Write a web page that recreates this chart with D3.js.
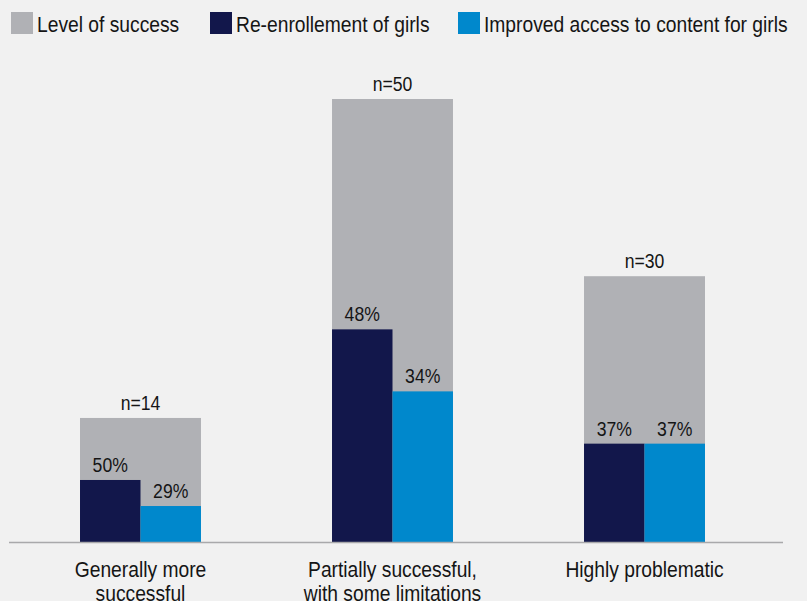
<!DOCTYPE html>
<html>
<head>
<meta charset="utf-8">
<script src="https://cdn.jsdelivr.net/npm/d3@7"></script>
<style>
  html, body { margin: 0; padding: 0; background: #f1f1f1; }
  svg { display: block; }
  text { font-family: "Liberation Sans", Arial, sans-serif; fill: #151515; }
</style>
</head>
<body>
<svg id="chart" width="807" height="601"></svg>
<script>
// Survey groups and their sample sizes
const categories = [
  ["Generally more", "successful"],
  ["Partially successful,", "with some limitations"],
  ["Highly problematic"]
];
const sampleSizes = [14, 50, 30];
// Share of each group reporting the outcome (percent)
const reEnrollment = [50, 48, 37];
const improvedAccess = [29, 34, 37];
const seriesNames = ["Level of success", "Re-enrollement of girls", "Improved access to content for girls"];
const colors = ["#b0b1b5", "#12174b", "#0088cc"];

const svg = d3.select("#chart");
const baseY = 542;
// Horizontal squeeze that gives the labels a condensed face
const SQ = 0.875;

const keys = categories.map((c, i) => i);
const x = d3.scaleBand().domain(keys).range([0, 785]).paddingInner(0.52).paddingOuter(0.3175);
const y = d3.scaleLinear().domain([0, 50]).range([baseY, 99]);
const bw = x.bandwidth();

function placeText(sel, fx, fy, sq) {
  return sel.attr("transform", (d, i) => `translate(${fx(d, i)},${fy(d, i)}) scale(${sq},1)`);
}

// Grey bars: group size
const groups = svg.append("g").selectAll("g").data(keys).join("g")
  .attr("transform", i => `translate(${x(i)},0)`);

groups.append("rect")
  .attr("x", 0).attr("width", bw)
  .attr("y", i => y(sampleSizes[i]))
  .attr("height", i => baseY - y(sampleSizes[i]))
  .attr("fill", colors[0]);

placeText(groups.append("text"), () => bw / 2, i => y(sampleSizes[i]) - 8, 0.84)
  .attr("text-anchor", "middle").attr("font-size", 21)
  .text(i => "n=" + sampleSizes[i]);

// Inner bars: respondents in each group, as share of group size
const inner = [reEnrollment, improvedAccess];
inner.forEach((vals, s) => {
  const count = i => sampleSizes[i] * vals[i] / 100;
  groups.append("rect")
    .attr("x", s * bw / 2).attr("width", bw / 2)
    .attr("y", i => y(count(i)))
    .attr("height", i => baseY - y(count(i)))
    .attr("fill", colors[s + 1]);
  placeText(groups.append("text"), () => s * bw / 2 + bw / 4, i => y(count(i)) - 8, 0.84)
    .attr("text-anchor", "middle").attr("font-size", 21)
    .text(i => vals[i] + "%");
});

// Baseline
svg.append("line")
  .attr("x1", 9).attr("x2", 783).attr("y1", baseY + 0.5).attr("y2", baseY + 0.5)
  .attr("stroke", "#a9a9ab").attr("stroke-width", 1.5);

// Category labels
const xl = placeText(svg.append("g").selectAll("text").data(keys).join("text"),
    i => x(i) + bw / 2, () => 577, SQ)
  .attr("text-anchor", "middle").attr("font-size", 22);
xl.selectAll("tspan").data(i => categories[i]).join("tspan")
  .attr("x", 0)
  .attr("dy", (d, j) => j === 0 ? 0 : 24)
  .text(d => d);

// Legend
const legendX = [11, 210, 458];
const lg = svg.append("g").selectAll("g").data(seriesNames).join("g")
  .attr("transform", (d, i) => `translate(${legendX[i]},12)`);
lg.append("rect").attr("width", 22).attr("height", 22).attr("fill", (d, i) => colors[i]);
placeText(lg.append("text"), () => 26, () => 20, SQ).attr("font-size", 22).text(d => d);
</script>
</body>
</html>
